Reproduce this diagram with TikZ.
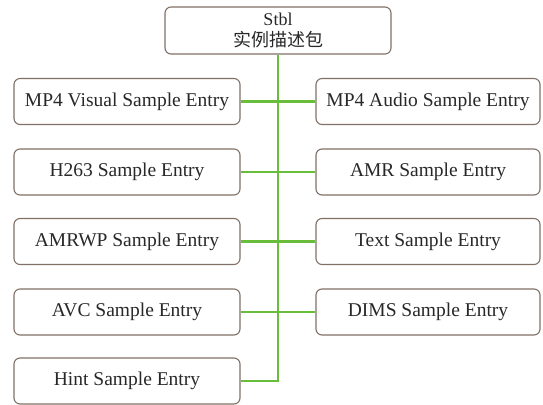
\documentclass[tikz,border=0pt]{standalone}
\usepackage{fontspec}
\setmainfont{Liberation Serif}
\newfontfamily\cjkfont{Noto Sans CJK SC}
\definecolor{linkgreen}{RGB}{104,190,58}
\definecolor{boxedge}{RGB}{128,112,102}
\definecolor{txt}{RGB}{40,40,40}
\begin{document}
\begin{tikzpicture}[x=1pt,y=-1pt,
  entry/.style={draw=boxedge, line width=1.1pt, rounded corners=6pt, fill=white,
    minimum width=226pt, minimum height=46pt, inner sep=0pt, text=txt,
    font=\fontsize{19.5}{21}\selectfont, align=center},
  link/.style={draw=linkgreen, line width=2.4pt}]
\useasboundingbox (0,0) rectangle (543,404);

% root box
\node[entry, minimum height=47pt, font=\fontsize{18}{21}\selectfont] (root) at (278,30.5)
  {Stbl\\{\cjkfont 实例描述包}};

% left column
\node[entry] (l1) at (127,101.5) {MP4 Visual Sample Entry};
\node[entry] (l2) at (127,172) {H263 Sample Entry};
\node[entry] (l3) at (127,241.5) {AMRWP Sample Entry};
\node[entry] (l4) at (127,312) {AVC Sample Entry};
\node[entry] (l5) at (127,381) {Hint Sample Entry};

% right column
\node[entry, minimum width=224pt] (r1) at (428,101.5) {MP4 Audio Sample Entry};
\node[entry, minimum width=224pt] (r2) at (428,172) {AMR Sample Entry};
\node[entry, minimum width=224pt] (r3) at (428,241.5) {Text Sample Entry};
\node[entry, minimum width=224pt] (r4) at (428,312) {DIMS Sample Entry};

% connectors
\coordinate (bend) at (278,381);
\draw[link] (root.south) -- (bend) -- (l5.east);
\draw[link] (l1.east) -- (r1.west);
\draw[link] (l2.east) -- (r2.west);
\draw[link] (l3.east) -- (r3.west);
\draw[link] (l4.east) -- (r4.west);
\end{tikzpicture}
\end{document}
